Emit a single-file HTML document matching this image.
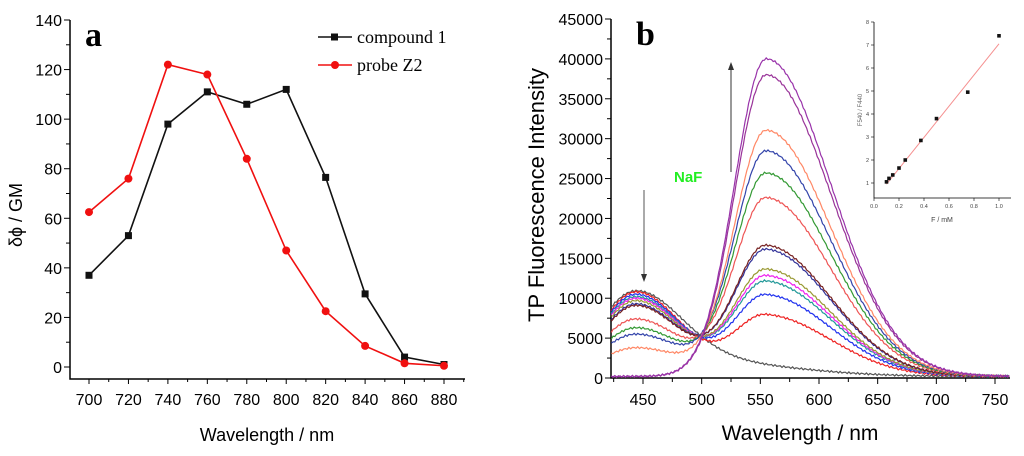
<!DOCTYPE html>
<html><head><meta charset="utf-8"><style>
body{margin:0;background:#fff;width:1024px;height:456px;overflow:hidden}
svg{display:block}
text{font-family:"Liberation Sans",sans-serif}
text.serif{font-family:"Liberation Serif",serif}
</style></head><body>
<svg id="figsvg" width="1024" height="456">
<g id="panelAg"></g>
<g id="panelBg"></g>
</svg>
<script>
var aWave=[700,720,740,760,780,800,820,840,860,880];
var aComp1=[37,53,98,111,106,112,76.5,29.5,4,1];
var aProbe=[62.5,76,122,118,84,47,22.5,8.5,1.5,0.5];
var aXTicks=[700,720,740,760,780,800,820,840,860,880];
var aYTicks=[0,20,40,60,80,100,120,140];
var bXTicks=[450,500,550,600,650,700,750];
var bYTicks=[0,5000,10000,15000,20000,25000,30000,35000,40000,45000];
var bColors=["#555555","#ee2222","#2233ee","#229999","#ee22ee","#999933","#333399","#772222","#ee5555","#339933","#3344aa","#ff8866","#993399","#9933aa"];
var bBlue=[9000,10600,10300,10000,9800,9500,9100,8900,7200,6100,5300,3600,0,0];
var bGreen=[0,7600,10100,11800,12500,13300,15800,16300,22300,25400,28200,30800,37800,39800];
var bTail=[1800,0,0,0,0,0,0,0,0,0,0,0,0,0];
var inX=[0.1,0.12,0.15,0.2,0.25,0.375,0.5,0.75,1.0];
var inY=[1.05,1.2,1.35,1.65,2.0,2.85,3.8,4.95,7.4];
var inFitX=[0.1,1.0];
var inFitY=[0.95,7.05];
var inXTicks=[0.0,0.2,0.4,0.6,0.8,1.0];
var inYTicks=[1,2,3,4,5,6,7,8];
var SVGNS="http://www.w3.org/2000/svg";
function mk(p,t,a,txt){var n=document.createElementNS(SVGNS,t);for(var k in a)n.setAttribute(k,a[k]);if(txt!==undefined)n.textContent=String(txt);p.appendChild(n);return n;}
function nm(n,name,inter){return n;}
function gauss(x,c,s){return Math.exp(-((x-c)/s)*((x-c)/s)/2);}
function ax(v){return 89+(v-700)*(444-89)/180;}
function ay(v){return 367-v*(367-20)/140;}
function bx(v){return 643+(v-450)*(995-643)/300;}
function by(v){return 378-v*(378-19)/45000;}
function ix(v){return 874+v*(999-874)/1.0;}
function iy(v){return 183-(v-1)*(183-22)/7;}
(function(){
var pa=document.getElementById('panelAg');
var pb=document.getElementById('panelBg');
pa.innerHTML='';pb.innerHTML='';
var v,x;
nm(mk(pa,'path',{d:'M70,20V379H465',fill:'none',stroke:'#000','stroke-width':1.5}),'axes-a');
for(v=700;v<=890;v+=10){x=ax(v);if(x>466)break;mk(pa,'line',{x1:x,x2:x,y1:379,y2:v%20==0?384:382,stroke:'#000'});}
aXTicks.forEach(function(t){nm(mk(pa,'text',{x:ax(t),y:405,'text-anchor':'middle','font-size':16},t),'x-tick-a');});
for(v=0;v<=140;v+=10){mk(pa,'line',{x1:v%20==0?64:66,x2:70,y1:ay(v),y2:ay(v),stroke:'#000'});}
aYTicks.forEach(function(t){nm(mk(pa,'text',{x:62,y:ay(t)+6,'text-anchor':'end','font-size':16},t),'y-tick-a');});
nm(mk(pa,'text',{x:267,y:441,'text-anchor':'middle','font-size':18},'Wavelength / nm'),'x-axis-title-a');
nm(mk(pa,'text',{x:22,y:215,'text-anchor':'middle','font-size':18,transform:'rotate(-90 22 215)'},'δϕ / GM'),'y-axis-title-a');
nm(mk(pa,'text',{x:85,y:46,'font-size':34,'font-weight':'bold','class':'serif'},'a'),'panel-label-a');
nm(mk(pa,'polyline',{points:aWave.map(function(w,j){return ax(w)+','+ay(aComp1[j]);}).join(' '),fill:'none',stroke:'#111','stroke-width':1.6}),'line-compound1');
aWave.forEach(function(w,j){nm(mk(pa,'rect',{x:ax(w)-3.5,y:ay(aComp1[j])-3.5,width:7,height:7,fill:'#111'}),'point-compound1');});
nm(mk(pa,'polyline',{points:aWave.map(function(w,j){return ax(w)+','+ay(aProbe[j]);}).join(' '),fill:'none',stroke:'#f01010','stroke-width':1.6}),'line-probe-z2');
aWave.forEach(function(w,j){nm(mk(pa,'circle',{cx:ax(w),cy:ay(aProbe[j]),r:4,fill:'#f01010'}),'point-probe-z2');});
var lg=nm(mk(pa,'g',{}),'legend');
mk(lg,'line',{x1:318,x2:352,y1:37,y2:37,stroke:'#111','stroke-width':1.6});mk(lg,'rect',{x:331,y:33.5,width:7,height:7,fill:'#111'});
mk(lg,'text',{x:357,y:43,'font-size':18,'class':'serif'},'compound 1');
mk(lg,'line',{x1:318,x2:352,y1:65,y2:65,stroke:'#f01010','stroke-width':1.6});mk(lg,'circle',{cx:335,cy:65,r:4,fill:'#f01010'});
mk(lg,'text',{x:357,y:71,'font-size':18,'class':'serif'},'probe Z2');
// panel B
nm(mk(pb,'path',{d:'M611,19V378H1010',fill:'none',stroke:'#000','stroke-width':1.5}),'axes-b');
for(v=425;v<=760;v+=25){x=bx(v);mk(pb,'line',{x1:x,x2:x,y1:378,y2:v%50==0?384:382,stroke:'#000'});}
bXTicks.forEach(function(t){nm(mk(pb,'text',{x:bx(t),y:405,'text-anchor':'middle','font-size':16},t),'x-tick-b');});
for(v=0;v<=45000;v+=2500){mk(pb,'line',{x1:v%5000==0?605:607,x2:611,y1:by(v),y2:by(v),stroke:'#000'});}
bYTicks.forEach(function(t){nm(mk(pb,'text',{x:603,y:by(t)+6,'text-anchor':'end','font-size':16},t),'y-tick-b');});
nm(mk(pb,'text',{x:800,y:440,'text-anchor':'middle','font-size':21},'Wavelength / nm'),'x-axis-title-b');
nm(mk(pb,'text',{x:544,y:195,'text-anchor':'middle','font-size':22,transform:'rotate(-90 544 195)'},'TP Fluorescence Intensity'),'y-axis-title-b');
nm(mk(pb,'text',{x:636,y:45,'font-size':34,'font-weight':'bold','class':'serif'},'b'),'panel-label-b');
bColors.forEach(function(col,j){var pts=[];for(var w=423;w<=763;w+=1.5){var val=bBlue[j]*gauss(w,444,w<444?30:39)+bGreen[j]*gauss(w,555,w<555?27:55)+bTail[j]*gauss(w,500,w<500?200:75)+200+Math.sin(w*1.7+j)*120;pts.push(bx(w).toFixed(1)+','+by(val).toFixed(1));}
nm(mk(pb,'polyline',{points:pts.join(' '),fill:'none',stroke:col,'stroke-width':1.2}),'spectrum-'+(j+1));});
var ad=nm(mk(pb,'g',{}),'arrow-down');
mk(ad,'line',{x1:644,x2:644,y1:190,y2:276,stroke:'#555','stroke-width':1});mk(ad,'path',{d:'M641,274L644,282L647,274Z',fill:'#333'});
var au=nm(mk(pb,'g',{}),'arrow-up');
mk(au,'line',{x1:731,x2:731,y1:68,y2:172,stroke:'#333','stroke-width':1});mk(au,'path',{d:'M728,70L731,62L734,70Z',fill:'#333'});
nm(mk(pb,'text',{x:674,y:182,'font-size':15,'font-weight':'bold',fill:'#22ee22'},'NaF'),'naf-label');
nm(mk(pb,'path',{d:'M874,22V198H1011',fill:'none',stroke:'#000','stroke-width':0.8}),'inset-axes');
inXTicks.forEach(function(t){mk(pb,'line',{x1:ix(t),x2:ix(t),y1:198,y2:201,stroke:'#000','stroke-width':0.6});nm(mk(pb,'text',{x:ix(t),y:208,'text-anchor':'middle','font-size':5.5,fill:'#444'},t.toFixed(1)),'inset-x-tick');});
inYTicks.forEach(function(t){mk(pb,'line',{x1:871,x2:874,y1:iy(t),y2:iy(t),stroke:'#000','stroke-width':0.6});nm(mk(pb,'text',{x:869,y:iy(t)+2,'text-anchor':'end','font-size':5.5,fill:'#444'},t),'inset-y-tick');});
nm(mk(pb,'text',{x:942,y:222,'text-anchor':'middle','font-size':7,fill:'#444'},'F / mM'),'inset-x-title');
nm(mk(pb,'text',{x:862,y:110,'text-anchor':'middle','font-size':6,fill:'#666',transform:'rotate(-90 862 110)'},'F540 / F440'),'inset-y-title');
nm(mk(pb,'line',{x1:ix(inFitX[0]),y1:iy(inFitY[0]),x2:ix(inFitX[1]),y2:iy(inFitY[1]),stroke:'#f59090','stroke-width':1}),'inset-fit-line');
inX.forEach(function(t,j){nm(mk(pb,'rect',{x:ix(t)-1.8,y:iy(inY[j])-1.8,width:3.6,height:3.6,fill:'#111'}),'inset-point');});
})();
</script>
</body></html>
